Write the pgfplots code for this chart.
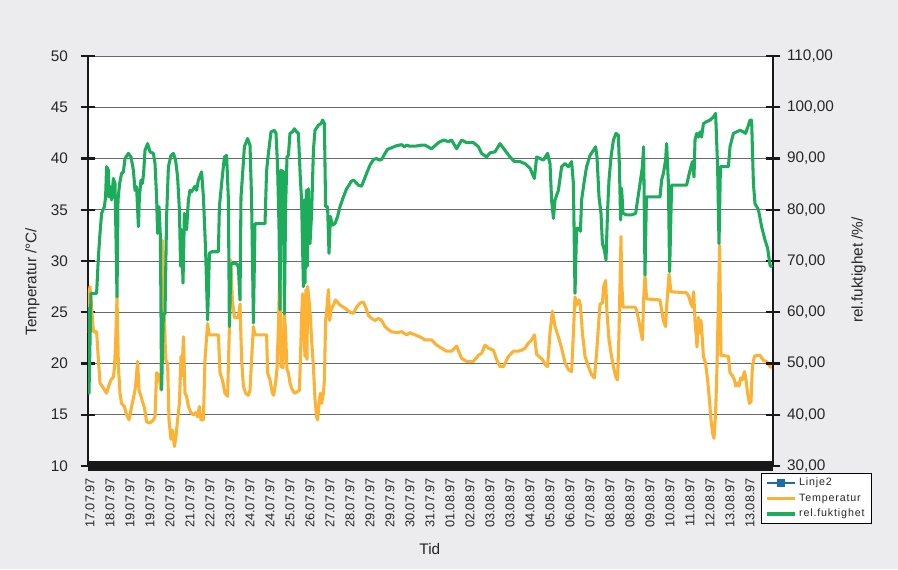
\documentclass[border=0pt]{standalone}
\usepackage{fontspec}
\setmainfont{Liberation Sans}
\usepackage{pgfplots}
\pgfplotsset{compat=1.18}
\definecolor{bg}{RGB}{236,236,238}
\definecolor{tempc}{RGB}{252,178,52}
\definecolor{humc}{RGB}{29,172,92}
\definecolor{linjec}{RGB}{31,105,175}
\definecolor{gridc}{RGB}{105,105,105}

\pgfplotstableread{
x y
0.00 23.0
0.02 26.5
0.10 27.5
0.18 25.5
0.27 23.1
0.43 23.1
0.52 20.4
0.60 18.1
0.77 17.6
0.93 17.1
1.05 17.9
1.15 18.4
1.27 18.7
1.32 19.5
1.38 22.0
1.45 26.5
1.52 19.7
1.60 17.1
1.68 16.1
1.82 15.8
1.93 15.0
2.05 14.5
2.18 15.8
2.32 17.1
2.38 17.8
2.48 20.2
2.55 17.4
2.65 16.8
2.72 16.3
2.82 15.7
2.93 14.3
3.10 14.2
3.27 14.5
3.35 14.8
3.43 19.1
3.55 18.8
3.65 17.4
3.73 32.0
3.82 24.9
3.88 20.4
3.98 20.0
4.05 14.5
4.15 12.6
4.23 13.5
4.32 11.9
4.40 12.9
4.48 14.5
4.57 16.1
4.65 20.7
4.70 18.8
4.77 22.6
4.85 17.1
4.93 16.8
5.02 15.8
5.15 15.2
5.27 15.0
5.38 15.2
5.48 14.8
5.57 15.8
5.65 14.5
5.77 14.5
5.85 20.4
5.98 23.9
6.05 22.8
6.52 22.8
6.60 19.1
6.72 18.4
6.85 17.1
6.98 16.8
7.07 23.6
7.13 30.1
7.22 26.2
7.32 24.5
7.52 24.5
7.60 25.8
7.68 20.4
7.77 17.8
7.88 17.1
8.02 16.9
8.10 17.4
8.18 20.4
8.27 23.6
8.35 22.8
8.93 22.8
8.98 19.1
9.10 18.4
9.22 17.1
9.28 16.9
9.38 18.1
9.45 19.5
9.52 23.6
9.60 30.0
9.65 19.7
9.75 19.6
9.82 24.9
9.88 23.0
9.95 19.4
10.02 19.1
10.10 18.1
10.18 17.6
10.32 17.1
10.43 17.2
10.57 17.4
10.63 21.0
10.68 24.5
10.73 26.8
10.78 23.6
10.85 20.7
10.90 27.2
10.95 20.4
10.98 27.5
11.05 26.2
11.12 24.5
11.18 22.3
11.27 19.7
11.35 16.5
11.43 14.8
11.48 14.5
11.55 16.1
11.62 17.1
11.68 16.1
11.77 17.1
11.82 18.4
11.88 24.2
11.95 25.5
12.02 27.2
12.08 24.2
12.15 25.2
12.27 25.7
12.38 26.2
12.60 25.7
12.85 25.4
13.10 25.0
13.27 24.9
13.43 25.5
13.60 25.9
13.77 26.0
13.90 25.4
14.02 24.7
14.18 24.4
14.35 24.2
14.52 24.4
14.68 24.2
14.85 23.6
15.02 23.3
15.18 23.1
15.43 23.0
15.68 23.1
15.93 22.8
16.10 23.0
16.35 22.8
16.60 22.6
16.85 22.3
17.18 22.3
17.43 21.8
17.68 21.5
17.93 21.2
18.18 21.2
18.43 21.7
18.68 20.5
18.93 20.2
19.27 20.2
19.52 20.8
19.68 21.0
19.85 21.8
20.02 21.5
20.27 21.3
20.43 20.4
20.60 19.7
20.77 19.7
21.02 20.7
21.27 21.2
21.52 21.2
21.68 21.3
21.85 21.5
22.02 22.0
22.18 22.3
22.32 22.8
22.43 20.9
22.60 20.6
22.72 20.4
22.85 19.9
22.98 19.7
23.10 23.0
23.22 25.1
23.35 23.6
23.52 22.6
23.68 21.5
23.85 20.1
24.02 19.4
24.18 19.2
24.27 23.0
24.35 26.5
24.43 25.7
24.55 26.2
24.62 25.7
24.72 23.0
24.85 20.7
25.02 19.7
25.18 18.9
25.32 18.6
25.43 21.0
25.52 23.6
25.60 25.8
25.72 25.9
25.78 27.5
25.88 28.1
25.95 24.9
26.05 22.3
26.15 21.0
26.27 19.7
26.38 18.7
26.48 18.4
26.55 23.0
26.65 32.4
26.68 28.1
26.75 25.5
27.35 25.5
27.43 25.2
27.55 24.1
27.65 23.0
27.72 22.3
27.78 26.2
27.85 28.6
27.93 26.3
28.60 26.2
28.68 25.2
28.77 24.2
28.88 23.6
28.93 25.5
29.05 28.7
29.15 27.0
29.93 26.9
30.05 26.5
30.15 25.8
30.23 25.5
30.28 27.0
30.35 24.2
30.40 23.0
30.45 21.6
30.52 24.5
30.58 23.0
30.65 24.2
30.72 22.3
30.77 20.7
30.88 20.0
30.98 18.4
31.07 16.5
31.15 14.5
31.23 13.2
31.30 12.7
31.38 15.2
31.45 19.7
31.52 26.2
31.58 31.5
31.65 20.8
32.02 20.7
32.10 19.1
32.22 18.8
32.32 18.4
32.38 17.8
32.48 18.1
32.55 17.8
32.63 18.6
32.72 18.4
32.82 19.2
32.88 18.7
32.98 17.1
33.07 16.1
33.15 16.3
33.22 19.7
33.32 20.7
33.43 20.8
33.60 20.8
33.77 20.3
33.93 20.2
34.10 19.7
34.20 19.6
}\temptable

\pgfplotstableread{
x y
0.00 61.0
0.03 56.0
0.05 44.2
0.15 63.7
0.43 63.7
0.52 70.8
0.60 75.4
0.68 79.3
0.82 80.6
0.88 82.5
0.93 88.4
1.02 87.7
1.05 82.5
1.12 84.5
1.18 81.9
1.27 86.1
1.35 85.1
1.40 74.7
1.45 63.0
1.50 81.9
1.58 85.1
1.68 87.1
1.77 87.4
1.85 90.0
2.02 91.0
2.15 90.3
2.27 87.7
2.35 83.8
2.43 84.5
2.52 76.7
2.57 82.5
2.65 85.8
2.72 85.1
2.78 87.1
2.85 91.6
2.98 92.9
3.10 91.3
3.27 91.0
3.35 89.0
3.43 82.5
3.48 75.4
3.55 80.6
3.62 74.7
3.68 44.9
3.77 59.7
3.85 59.7
3.93 78.7
4.02 88.4
4.15 90.6
4.27 91.0
4.38 89.7
4.48 86.4
4.57 80.0
4.63 69.0
4.68 76.1
4.75 65.7
4.82 79.3
4.93 76.1
5.02 81.9
5.10 83.8
5.18 83.5
5.27 84.1
5.35 84.6
5.43 83.8
5.52 85.8
5.68 87.4
5.77 82.5
5.88 72.1
5.98 58.5
6.07 71.5
6.18 71.8
6.52 71.8
6.57 80.6
6.68 85.1
6.82 90.3
6.93 90.6
7.02 81.9
7.07 57.2
7.15 69.5
7.43 69.5
7.52 68.8
7.60 62.4
7.65 82.5
7.72 86.4
7.82 92.3
7.98 93.9
8.10 92.6
8.18 81.9
8.27 57.9
8.35 77.3
8.85 77.3
8.93 87.7
9.02 91.0
9.15 95.2
9.32 95.5
9.40 94.9
9.48 88.4
9.55 76.7
9.60 60.5
9.65 87.7
9.77 87.4
9.82 59.7
9.88 80.6
9.95 90.3
10.02 90.6
10.10 94.9
10.22 95.2
10.32 95.8
10.43 95.2
10.52 94.9
10.62 85.8
10.68 81.9
10.77 65.0
10.82 81.9
10.85 65.7
10.92 83.8
10.97 69.0
11.02 84.1
11.10 73.4
11.18 79.3
11.27 91.6
11.35 95.5
11.52 96.5
11.65 96.8
11.73 97.5
11.82 96.8
11.88 80.6
11.98 80.6
12.05 71.5
12.12 78.7
12.22 77.0
12.35 77.3
12.48 78.7
12.60 80.6
12.77 82.5
12.93 84.1
13.05 84.8
13.15 85.5
13.27 85.8
13.35 85.5
13.52 84.8
13.68 84.6
13.77 85.5
13.93 87.1
14.10 88.7
14.27 89.8
14.43 90.0
14.55 89.7
14.68 89.8
14.85 91.0
14.98 91.8
15.18 92.1
15.43 92.5
15.68 92.7
15.82 92.3
15.93 92.6
16.10 92.4
16.35 92.4
16.68 92.6
16.85 92.6
17.18 91.9
17.52 93.1
17.77 93.6
18.02 93.3
18.18 93.6
18.43 91.9
18.68 93.6
18.93 93.1
19.27 93.1
19.52 92.3
19.68 91.0
19.93 90.3
20.10 91.1
20.35 91.3
20.60 92.9
20.85 91.6
21.10 90.3
21.32 89.4
21.60 89.4
21.85 89.0
22.10 88.1
22.32 86.1
22.43 90.3
22.60 90.0
22.77 89.7
22.98 91.0
23.10 89.0
23.18 81.9
23.27 78.3
23.35 81.9
23.52 83.8
23.68 88.4
23.85 89.0
24.02 88.4
24.18 89.4
24.27 85.1
24.35 63.7
24.43 76.4
24.55 76.4
24.62 75.8
24.68 81.9
24.82 85.8
24.93 88.4
25.10 90.6
25.27 91.6
25.38 92.3
25.45 90.3
25.55 82.5
25.65 79.3
25.72 73.4
25.82 72.1
25.90 70.2
25.98 80.0
26.05 85.8
26.15 90.3
26.27 93.6
26.40 94.9
26.52 94.5
26.57 88.4
26.63 78.0
26.68 84.2
26.75 79.3
26.93 79.0
27.18 79.0
27.38 79.3
27.48 81.9
27.60 85.1
27.72 88.4
27.78 92.3
27.85 67.3
27.92 82.5
28.60 82.5
28.68 85.8
28.77 87.1
28.88 89.7
28.93 92.9
29.02 85.1
29.08 67.9
29.18 84.8
29.93 84.8
30.10 87.7
30.22 89.4
30.30 86.4
30.35 93.6
30.43 94.9
30.52 94.2
30.60 95.2
30.68 94.2
30.77 96.8
30.93 97.2
31.10 97.5
31.27 98.1
31.38 98.8
31.48 88.4
31.55 73.4
31.62 88.4
32.02 88.4
32.10 92.3
32.27 94.9
32.43 95.2
32.60 95.5
32.77 95.2
32.88 94.9
33.02 96.5
33.10 97.5
33.18 97.5
33.27 85.1
33.35 81.2
33.52 80.0
33.68 76.7
33.85 74.1
33.98 72.5
34.10 69.2
34.20 68.8
}\humtable

\begin{document}
\begin{tikzpicture}
\fill[bg] (0,0) rectangle (673.5pt,426.75pt);
\useasboundingbox (0,0) rectangle (673.5pt,426.75pt);
\begin{axis}[
  at={(66pt,77.25pt)}, anchor=south west,
  scale only axis, width=513.75pt, height=307.5pt,
  xmin=0, xmax=34.25, ymin=10, ymax=50,
  axis background/.style={fill=white},
  axis y line*=left, axis x line*=bottom,
  y axis line style={-, line width=2.2pt, black!90},
  x axis line style={-, line width=7pt, black!90},
  ytick={10,15,...,50},
  yticklabels={10,15,20,25,30,35,40,45,50},
  tick align=center,
  major tick length=11pt,
  ytick style={line width=1.6pt, black!90},
  xtick={0,...,33},
  xtick style={draw=none},
  xticklabels={17.07.97,18.07.97,19.07.97,19.07.97,20.07.97,21.07.97,22.07.97,23.07.97,24.07.97,24.07.97,25.07.97,26.07.97,27.07.97,28.07.97,29.07.97,29.07.97,30.07.97,31.07.97,01.08.97,02.08.97,03.08.97,03.08.97,04.08.97,05.08.97,06.08.97,07.08.97,08.08.97,08.08.97,09.08.97,10.08.97,11.08.97,12.08.97,13.08.97,13.08.97},
  xticklabel style={rotate=90, anchor=east, font=\fontsize{9.6}{10}\selectfont, text=black!85, yshift=-1.5pt},
  yticklabel style={font=\fontsize{11.5}{13}\selectfont, text=black!85, xshift=-6pt},
  ymajorgrids,
  major grid style={gridc, line width=0.6pt},
  xlabel={Tid},
  xlabel style={at={(axis description cs:0.499,-0.2024)}, anchor=center, font=\fontsize{11.5}{13}\selectfont, text=black!85},
  ylabel={Temperatur /°C/},
  ylabel style={at={(axis description cs:-0.081,0.45)}, anchor=center, rotate=0, font=\fontsize{11.5}{13}\selectfont, text=black!85},
]
\addplot[tempc, line width=2.3pt, line join=round, no markers] table[x=x,y=y] {\temptable};
\end{axis}
\begin{axis}[
  at={(66pt,77.25pt)}, anchor=south west,
  scale only axis, width=513.75pt, height=307.5pt,
  xmin=0, xmax=34.25, ymin=30, ymax=110,
  axis y line*=right, axis x line=none,
  xtick=\empty,
  y axis line style={-, line width=2.2pt, black!90},
  ytick={30,40,...,110},
  yticklabels={{30,00},{40,00},{50,00},{60,00},{70,00},{80,00},{90,00},{100,00},{110,00}},
  tick align=center,
  major tick length=11pt,
  ytick style={line width=1.6pt, black!90},
  yticklabel style={font=\fontsize{11.5}{13}\selectfont, text=black!85, xshift=1.5pt},
  ylabel={rel.fuktighet /\%/},
  ylabel style={at={(axis description cs:1.125,0.478)}, anchor=center, rotate=0, font=\fontsize{11.5}{13}\selectfont, text=black!85},
  legend style={at={(0.9825,-0.017)}, anchor=north west, draw=black, line width=0.6pt, fill=white,
    font=\fontsize{8}{9}\selectfont\addfontfeatures{LetterSpace=8}, text=black!85,
    inner xsep=3pt, inner ysep=1.5pt, row sep=0.5pt},
  legend cell align=left,
  legend image code/.code={\draw[mark repeat=2,mark phase=2,#1] plot coordinates {(0pt,0pt)(10.5pt,0pt)(21pt,0pt)};},
]
\addlegendimage{linjec, line width=1pt, mark=square*, mark size=2.3pt, mark options={solid}}
\addlegendentry{Linje2}
\addlegendimage{tempc, line width=2.3pt}
\addlegendentry{Temperatur}
\addplot[humc, line width=2.3pt, line join=round, no markers] table[x=x,y=y] {\humtable};
\addlegendentry{rel.fuktighet}
\end{axis}
\end{tikzpicture}
\end{document}
